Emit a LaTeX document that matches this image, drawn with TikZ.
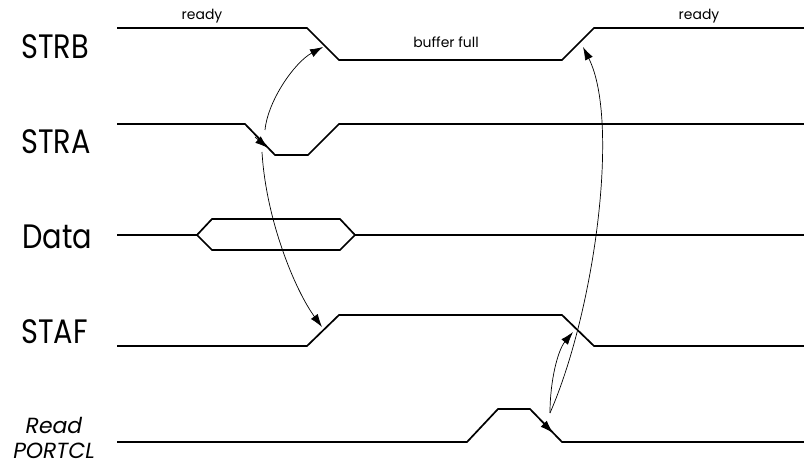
\documentclass[tikz,border=0pt]{standalone}
\usepackage{fontspec}
\usetikzlibrary{positioning,arrows.meta}
\newfontfamily\sigfont{Poppins}
\newfontfamily\namefont[FakeStretch=0.85]{Poppins}

\begin{document}
\begin{tikzpicture}[x=1bp,y=-1bp,
    wave/.style={line width=1.7bp,line join=miter},
    cause/.style={line width=0.7bp,-{Latex[length=13bp,width=8.5bp]}},
    siglabel/.style={inner sep=0pt,anchor=west,font=\namefont\fontsize{34}{34}\selectfont},
    statelabel/.style={inner sep=0pt,anchor=base,font=\sigfont\fontsize{14}{14}\selectfont}]
    \useasboundingbox (0,0) rectangle (804,467);

    % signal names
    \node [siglabel] (strb) at (21,47) {STRB};
    \node [siglabel] (stra) at (21,142) {STRA};
    \node [siglabel] (data) at (22,237) {Data};
    \node [siglabel] (staf) at (21,332) {STAF};
    \node [inner sep=0pt,align=center,font=\sigfont\itshape\fontsize{22}{26}\selectfont] (rd) at (54,438) {Read\\PORTCL};

    % waveforms
    \draw [wave] (117,28) -- (307,28) -- (339,60) -- (562,60) -- (594,28) -- (804,28);
    \draw [wave] (117,124) -- (245,124) -- (275,155) -- (308,155) -- (339,124) -- (804,124);
    \draw [wave] (117,235) -- (197,235) -- (212,219) -- (340,219) -- (355,235) -- (340,250) -- (212,250) -- (197,235);
    \draw [wave] (355,235) -- (804,235);
    \draw [wave] (117,346) -- (307,346) -- (339,315) -- (562,315) -- (594,346) -- (804,346);
    \draw [wave] (117,442) -- (467,442) -- (498,409) -- (530,409) -- (562,442) -- (804,442);

    \node [statelabel] (rdy1) at (202,20) {ready};
    \node [statelabel] (full) at (446,48) {buffer full};
    \node [statelabel] (rdy2) at (699,20) {ready};

    % edge points for the cause arrows
    \coordinate (straA) at (255,137);
    \coordinate (straB) at (268,148);
    \coordinate (straUp) at (265,130);
    \coordinate (straDn) at (262,152);
    \coordinate (strbFall) at (323,47);
    \coordinate (stafRise) at (322,327);
    \coordinate (rdA) at (540,420);
    \coordinate (rdB) at (553,433);
    \coordinate (rdUp) at (550,413);
    \coordinate (stafFall) at (573,332);
    \coordinate (strbRise) at (583,47);

    \draw [cause] (straA) -- (straB);
    \draw [cause] (straUp) .. controls (268,100) and (295,62) .. (strbFall);
    \draw [cause] (straDn) .. controls (266,220) and (295,290) .. (stafRise);
    \draw [cause] (rdA) -- (rdB);
    \draw [cause] (rdUp) .. controls (550,380) and (558,350) .. (stafFall);
    \draw [cause] (rdUp) .. controls (595,310) and (620,120) .. (strbRise);
\end{tikzpicture}
\end{document}
